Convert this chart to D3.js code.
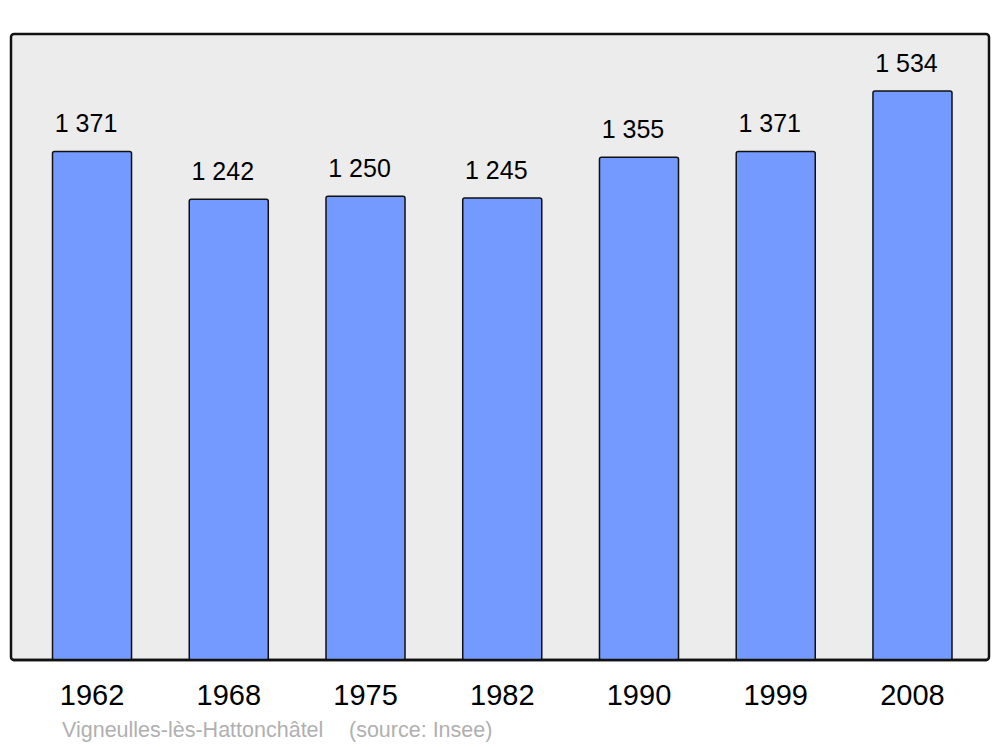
<!DOCTYPE html>
<html>
<head>
<meta charset="utf-8">
<script src="https://cdn.jsdelivr.net/npm/d3@7"></script>
<style>
  html, body { margin: 0; padding: 0; background: #ffffff; }
  svg { display: block; }
  text { font-family: "Liberation Sans", Arial, sans-serif; }
</style>
</head>
<body>
<svg id="chart" width="1000" height="747"></svg>
<script>
const years = ["1962", "1968", "1975", "1982", "1990", "1999", "2008"];
const population = [1371, 1242, 1250, 1245, 1355, 1371, 1534];
const valueLabels = ["1 371", "1 242", "1 250", "1 245", "1 355", "1 371", "1 534"];
const placeName = "Vigneulles-lès-Hattonchâtel";
const sourceName = "(source: Insee)";

const svg = d3.select("#chart");
const frame = { x0: 11, y0: 34, x1: 989, y1: 660 };

const x = d3.scaleBand()
  .domain(years)
  .range([52.5, 952])
  .paddingInner(0.422)
  .paddingOuter(0);

const y = d3.scaleLinear()
  .domain([0, d3.max(population) * 1.1])
  .range([frame.y1, frame.y0]);

svg.append("rect")
  .attr("x", frame.x0).attr("y", frame.y0)
  .attr("width", frame.x1 - frame.x0).attr("height", frame.y1 - frame.y0)
  .attr("rx", 3).attr("ry", 3)
  .attr("fill", "#ececec")
  .attr("stroke", "#111").attr("stroke-width", 2.5);

const data = years.map((yr, i) => ({ yr, v: population[i], label: valueLabels[i] }));

svg.selectAll("rect.bar").data(data).enter().append("rect")
  .attr("class", "bar")
  .attr("x", d => x(d.yr))
  .attr("y", d => y(d.v))
  .attr("width", x.bandwidth())
  .attr("height", d => y(0) - y(d.v))
  .attr("rx", 2).attr("ry", 2)
  .attr("fill", "#7499ff")
  .attr("stroke", "#111").attr("stroke-width", 1.5);

svg.append("line")
  .attr("x1", frame.x0 + 2).attr("x2", frame.x1 - 2)
  .attr("y1", frame.y1).attr("y2", frame.y1)
  .attr("stroke", "#111").attr("stroke-width", 2.5);

svg.selectAll("text.val").data(data).enter().append("text")
  .attr("class", "val")
  .attr("x", d => x(d.yr) + x.bandwidth() / 2 - 6)
  .attr("y", d => y(d.v) - 19)
  .attr("text-anchor", "middle")
  .attr("font-size", 25)
  .attr("fill", "#000")
  .text(d => d.label);

const xAxis = d3.axisBottom(x).tickSize(0).tickPadding(0);
const gx = svg.append("g").attr("transform", `translate(0, ${frame.y1})`).call(xAxis);
gx.select(".domain").remove();
gx.selectAll("text")
  .attr("y", 45).attr("dy", 0)
  .attr("font-size", 29)
  .attr("font-family", "Liberation Sans, Arial, sans-serif")
  .attr("fill", "#000");

svg.append("text")
  .attr("x", 62).attr("y", 737)
  .attr("font-size", 21.5)
  .attr("fill", "#b0b0b0")
  .text(placeName);
svg.append("text")
  .attr("x", 349).attr("y", 737)
  .attr("font-size", 21.5)
  .attr("fill", "#b0b0b0")
  .text(sourceName);
</script>
</body>
</html>
